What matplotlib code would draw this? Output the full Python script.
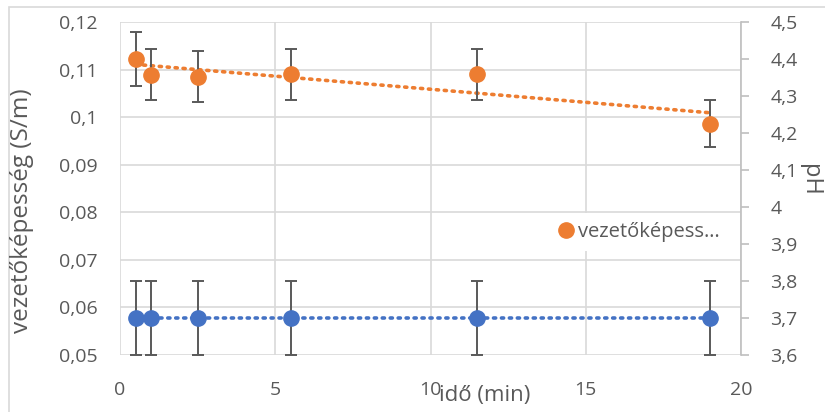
import numpy as np
import matplotlib.pyplot as plt
from matplotlib.ticker import FuncFormatter, MultipleLocator
from matplotlib.patches import Rectangle

# idő (min)
ido = [0.5, 1.0, 2.5, 5.5, 11.5, 19.0]
# vezetőképesség (S/m), left axis
vezeto = [0.1122, 0.1089, 0.1085, 0.1090, 0.1090, 0.0986]
vezeto_err = [0.0056, 0.0054, 0.0054, 0.0054, 0.0054, 0.0049]
# pH, right axis
ph = [3.7, 3.7, 3.7, 3.7, 3.7, 3.7]
ph_err = [0.1, 0.1, 0.1, 0.1, 0.1, 0.1]

orange = '#ED7D31'
blue = '#4472C4'
grey = '#595959'
gridc = '#d9d9d9'

plt.rcParams['font.family'] = ['Open Sans', 'DejaVu Sans']


def comma(v, pos):
    return ('%g' % round(v, 4)).replace('.', ',')


fig = plt.figure(figsize=(8.25, 4.12), dpi=100)
fig.patches.append(Rectangle((9 / 825, -0.1), 1.1, 1.1 - 7 / 412,
                             transform=fig.transFigure, fill=False,
                             edgecolor=gridc, lw=1.2))

ax = fig.add_axes([120 / 825, 1 - 355 / 412, (741 - 120) / 825, (355 - 22) / 412])
ax2 = ax.twinx()

ax.set_xlim(0, 20)
ax.set_ylim(0.05, 0.12)
ax2.set_ylim(3.6, 4.5)

ax.xaxis.set_major_locator(MultipleLocator(5))
ax.yaxis.set_major_locator(MultipleLocator(0.01))
ax2.yaxis.set_major_locator(MultipleLocator(0.1))
ax.yaxis.set_major_formatter(FuncFormatter(comma))
ax2.yaxis.set_major_formatter(FuncFormatter(comma))
ax.xaxis.set_major_formatter(FuncFormatter(comma))

ax.grid(True, color=gridc, lw=1.2)
ax.set_axisbelow(True)
for a in (ax, ax2):
    for s in a.spines.values():
        s.set_visible(False)
ax2.spines['right'].set_visible(True)
ax2.spines['right'].set_color('#bfbfbf')
ax2.spines['right'].set_linewidth(1.2)

ax.tick_params(axis='y', length=0, labelsize=14, labelcolor=grey, pad=16)
ax.tick_params(axis='x', length=0, labelsize=14, labelcolor=grey, pad=19)
ax2.tick_params(axis='y', length=6, color='#bfbfbf', width=1.2,
                labelsize=14, labelcolor=grey, pad=15)

# trend lines
k, b = np.polyfit(ido, vezeto, 1)
xt = np.array([ido[0], ido[-1]])
ax.plot(xt, k * xt + b, color=orange, lw=2.6, linestyle=(0, (0.6, 1.6)),
        dash_capstyle='round', zorder=2)
k2, b2 = np.polyfit(ido, ph, 1)
ax2.plot(xt, k2 * xt + b2, color=blue, lw=2.6, linestyle=(0, (0.6, 1.6)),
         dash_capstyle='round', zorder=2)

ax.errorbar(ido, vezeto, yerr=vezeto_err, fmt='o', color=orange, ms=11,
            ecolor=grey, elinewidth=1.4, capsize=4.5, capthick=1.4, zorder=3)
ax2.errorbar(ido, ph, yerr=ph_err, fmt='o', color=blue, ms=11,
             ecolor=grey, elinewidth=1.4, capsize=4.5, capthick=1.4, zorder=3)

fig.text(22 / 825, 1 - 211 / 412, 'vezetőképesség (S/m)', fontsize=17.5,
         color=grey, rotation=90, ha='center', va='center')
fig.text(810 / 825, 1 - 180 / 412, 'pH', fontsize=17, color=grey,
         rotation=270, ha='center', va='center')
fig.text(485 / 825, 1 - 385 / 412, 'idő (min)', fontsize=16,
         color=grey, ha='center', va='top')

h = [plt.Line2D([], [], marker='o', color=orange, ls='', ms=11)]
leg = ax.legend(h, ['vezetőképess…'], loc='center left',
                bbox_to_anchor=((538 - 120) / 621, (355 - 232) / 333),
                frameon=True, fontsize=14.5, handletextpad=0.15,
                borderpad=0.45, handlelength=0.9)
leg.get_frame().set_edgecolor('none')
leg.get_frame().set_facecolor('white')
leg.get_frame().set_alpha(1)
for t in leg.get_texts():
    t.set_color(grey)
leg.set_zorder(1)

fig.savefig('out.png', dpi=100)
